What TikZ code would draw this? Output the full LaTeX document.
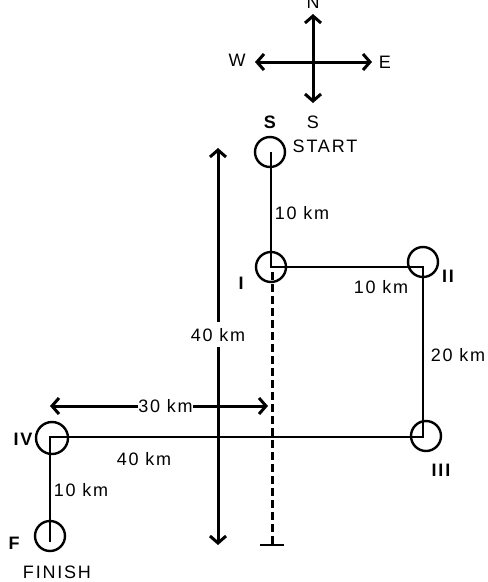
\documentclass[tikz,border=0pt]{standalone}
\usepackage{fontspec}
\setmainfont{Liberation Sans}[LetterSpace=10]
\usetikzlibrary{arrows.meta,positioning,calc}
\begin{document}
\begin{tikzpicture}
[x=1pt,y=-1pt,>={Straight Barb[length=7pt,width=16pt]},
stop/.style = {draw, circle, line width=2.4pt, minimum size=30pt, inner sep=0pt},
leg/.style = {line width=2.8pt},
dim/.style = {line width=3pt,<->},
txt/.style = {font=\fontsize{18}{20}\selectfont, inner sep=1pt},
tag/.style = {font=\fontsize{18}{20}\selectfont\bfseries, inner sep=1pt},]
\useasboundingbox (0,0) rectangle (488,582);
% compass
\coordinate (cN) at (313,14);
\coordinate (cS) at (313,103);
\coordinate (cW) at (255,62);
\coordinate (cE) at (372,62);
\draw[dim] (cW)--(cE);
\draw[dim] (cN)--(cS);
\node (N) at (313,2)[txt] {N};
\node (W) at (237,60)[txt] {W};
\node (E) at (385,62)[txt] {E};
\node (Sd) at (313,122)[txt] {S};
% corners of the route
\coordinate (pS) at (271,152);
\coordinate (pI) at (271,267);
\coordinate (pII) at (423,267);
\coordinate (pIII) at (423,437);
\coordinate (pIV) at (50,437);
\coordinate (pF) at (50,542);
\node (S) at (270,152)[stop] {};
\node (I) at (271,267)[stop] {};
\node (II) at (423,262)[stop] {};
\node (III) at (426,436)[stop] {};
\node (IV) at (52,438)[stop,minimum size=32pt] {};
\node (F) at (50,536)[stop] {};
\draw[leg] (pS)--(pI)--(pII)--(pIII)--(pIV)--(pF);
% labels
\node (tS) at (270,122)[tag] {S};
\node (start) at (325,146)[txt] {START};
\node (tI) at (241,283)[tag] {I};
\node (tII) at (448,276)[tag] {II};
\node (tIII) at (441,470)[tag] {III};
\node (tIV) at (23,439)[tag] {IV};
\node (tF) at (14,543)[tag] {F};
\node (finish) at (57,572)[txt] {FINISH};
\node (k1) at (302,213)[txt] {10 km};
\node (k2) at (381,287)[txt] {10 km};
\node (k3) at (458,355)[txt] {20 km};
\node (k4) at (144,459)[txt] {40 km};
\node (k5) at (81,490)[txt] {10 km};
% dimension arrows
\coordinate (v1) at (218,148);
\coordinate (v2) at (218,545);
\draw[dim] (v1)--node[pos=0.47,txt,fill=white,inner ysep=6pt]{40 km}(v2);
\coordinate (h1) at (50,406);
\coordinate (h2) at (268,406);
\draw[dim] (h1)--node[pos=0.53,txt,fill=white,inner sep=0pt]{30 km}(h2);
% reference line
\coordinate (r1) at (272,272);
\coordinate (r2) at (272,545);
\draw[line width=3pt,dash pattern=on 8pt off 4pt] (r1)--(r2);
\draw[line width=2.4pt] ($(r2)+(-12,0)$)--($(r2)+(12,0)$);



\end{tikzpicture}
\end{document}
